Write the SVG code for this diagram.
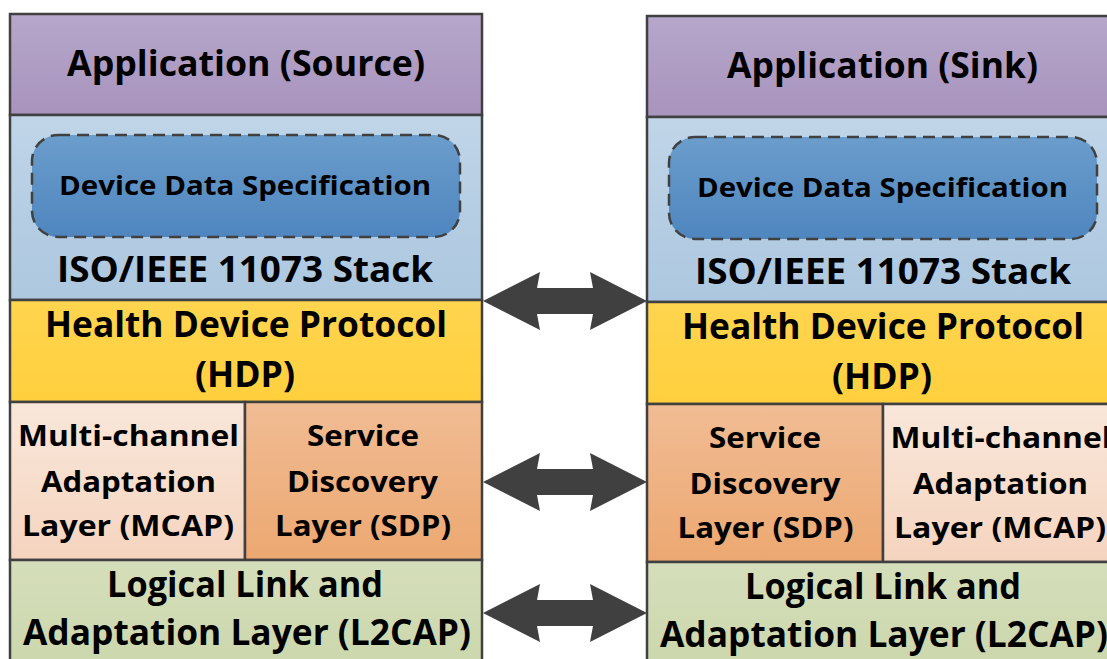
<svg xmlns="http://www.w3.org/2000/svg" width="1107" height="659" viewBox="0 0 1107 659">
<style>
.box{stroke:#404040;stroke-width:2.5}
.t{font-family:"Open Sans","Noto Sans","Liberation Sans",sans-serif;font-weight:bold;fill:#000;text-anchor:middle}
.big{font-size:35px}
.mid{font-size:29px}
.sm{font-size:27px}
.dds{stroke:#404040;stroke-width:2.5;stroke-dasharray:12 7}
.arrow{fill:#404040}
</style>
<defs>
<linearGradient id="gPurple" x1="0" y1="0" x2="0" y2="1"><stop offset="0" stop-color="#b6a7cb"/><stop offset="1" stop-color="#a893bd"/></linearGradient>
<linearGradient id="gLBlue" x1="0" y1="0" x2="0" y2="1"><stop offset="0" stop-color="#c0d5e8"/><stop offset="1" stop-color="#acc7df"/></linearGradient>
<linearGradient id="gBlue" x1="0" y1="0" x2="0" y2="1"><stop offset="0" stop-color="#6b9dcc"/><stop offset="1" stop-color="#4f86bf"/></linearGradient>
<linearGradient id="gYellow" x1="0" y1="0" x2="0" y2="1"><stop offset="0" stop-color="#ffd54f"/><stop offset="1" stop-color="#ffcf3d"/></linearGradient>
<linearGradient id="gPeach" x1="0" y1="0" x2="0" y2="1"><stop offset="0" stop-color="#f9e7da"/><stop offset="1" stop-color="#f5d4bf"/></linearGradient>
<linearGradient id="gOrange" x1="0" y1="0" x2="0" y2="1"><stop offset="0" stop-color="#f1bc94"/><stop offset="1" stop-color="#eca871"/></linearGradient>
<linearGradient id="gGreen" x1="0" y1="0" x2="0" y2="1"><stop offset="0" stop-color="#d5deba"/><stop offset="1" stop-color="#cad6ab"/></linearGradient>
<path id="dblArrow" d="M0,0 L57,-29 L54,-13 L110,-13 L107,-29 L164,0 L107,29 L110,13 L54,13 L57,29 Z"/>
</defs>
<rect width="1107" height="659" fill="#ffffff"/>

<g id="source-stack">
<g id="src-app">
<rect class="box" x="10" y="14" width="472" height="101" fill="url(#gPurple)"/>
<text class="t big" x="246" y="76" textLength="358" lengthAdjust="spacingAndGlyphs">Application (Source)</text>
</g>
<g id="src-iso">
<rect class="box" x="10" y="115" width="472" height="185" fill="url(#gLBlue)"/>
<text class="t big" x="245" y="282" textLength="376" lengthAdjust="spacingAndGlyphs">ISO/IEEE 11073 Stack</text>
</g>
<g id="src-dds">
<rect class="dds" x="32" y="135" width="428" height="102" rx="26" fill="url(#gBlue)"/>
<text class="t sm" x="245" y="195" textLength="372" lengthAdjust="spacingAndGlyphs">Device Data Specification</text>
</g>
<g id="src-hdp">
<rect class="box" x="10" y="300" width="472" height="102" fill="url(#gYellow)"/>
<text class="t big" x="246" y="337" textLength="402" lengthAdjust="spacingAndGlyphs">Health Device Protocol</text>
<text class="t big" x="245" y="387" textLength="100" lengthAdjust="spacingAndGlyphs">(HDP)</text>
</g>
<g id="src-mcap">
<rect class="box" x="10" y="402" width="235" height="158" fill="url(#gPeach)"/>
<text class="t mid" x="128.5" y="446" textLength="221" lengthAdjust="spacingAndGlyphs">Multi-channel</text>
<text class="t mid" x="128.5" y="492" textLength="175" lengthAdjust="spacingAndGlyphs">Adaptation</text>
<text class="t mid" x="128" y="536" textLength="212" lengthAdjust="spacingAndGlyphs">Layer (MCAP)</text>
</g>
<g id="src-sdp">
<rect class="box" x="245" y="402" width="237" height="158" fill="url(#gOrange)"/>
<text class="t mid" x="363" y="446" textLength="112" lengthAdjust="spacingAndGlyphs">Service</text>
<text class="t mid" x="362.5" y="492" textLength="151" lengthAdjust="spacingAndGlyphs">Discovery</text>
<text class="t mid" x="363" y="536" textLength="176" lengthAdjust="spacingAndGlyphs">Layer (SDP)</text>
</g>
<g id="src-l2cap">
<rect class="box" x="10" y="560" width="472" height="120" fill="url(#gGreen)"/>
<text class="t big" x="245" y="597" textLength="276" lengthAdjust="spacingAndGlyphs">Logical Link and</text>
<text class="t big" x="247" y="645" textLength="448" lengthAdjust="spacingAndGlyphs">Adaptation Layer (L2CAP)</text>
</g>
</g>

<g id="sink-stack">
<g id="snk-app">
<rect class="box" x="647" y="16" width="472" height="101" fill="url(#gPurple)"/>
<text class="t big" x="882.5" y="78" textLength="311" lengthAdjust="spacingAndGlyphs">Application (Sink)</text>
</g>
<g id="snk-iso">
<rect class="box" x="647" y="117" width="472" height="185" fill="url(#gLBlue)"/>
<text class="t big" x="883" y="284" textLength="376" lengthAdjust="spacingAndGlyphs">ISO/IEEE 11073 Stack</text>
</g>
<g id="snk-dds">
<rect class="dds" x="669" y="137" width="428" height="102" rx="26" fill="url(#gBlue)"/>
<text class="t sm" x="882.5" y="197" textLength="371" lengthAdjust="spacingAndGlyphs">Device Data Specification</text>
</g>
<g id="snk-hdp">
<rect class="box" x="647" y="302" width="472" height="102" fill="url(#gYellow)"/>
<text class="t big" x="883" y="339" textLength="402" lengthAdjust="spacingAndGlyphs">Health Device Protocol</text>
<text class="t big" x="882" y="389" textLength="100" lengthAdjust="spacingAndGlyphs">(HDP)</text>
</g>
<g id="snk-sdp">
<rect class="box" x="647" y="404" width="236" height="158" fill="url(#gOrange)"/>
<text class="t mid" x="765" y="448" textLength="112" lengthAdjust="spacingAndGlyphs">Service</text>
<text class="t mid" x="765" y="494" textLength="151" lengthAdjust="spacingAndGlyphs">Discovery</text>
<text class="t mid" x="765.5" y="538" textLength="176" lengthAdjust="spacingAndGlyphs">Layer (SDP)</text>
</g>
<g id="snk-mcap">
<rect class="box" x="883" y="404" width="236" height="158" fill="url(#gPeach)"/>
<text class="t mid" x="1001" y="448" textLength="221" lengthAdjust="spacingAndGlyphs">Multi-channel</text>
<text class="t mid" x="1000.5" y="494" textLength="175" lengthAdjust="spacingAndGlyphs">Adaptation</text>
<text class="t mid" x="1000" y="538" textLength="212" lengthAdjust="spacingAndGlyphs">Layer (MCAP)</text>
</g>
<g id="snk-l2cap">
<rect class="box" x="647" y="562" width="472" height="120" fill="url(#gGreen)"/>
<text class="t big" x="883" y="599" textLength="276" lengthAdjust="spacingAndGlyphs">Logical Link and</text>
<text class="t big" x="884" y="647" textLength="448" lengthAdjust="spacingAndGlyphs">Adaptation Layer (L2CAP)</text>
</g>
</g>

<g id="connectors">
<use class="arrow" href="#dblArrow" transform="translate(483,301)"/>
<use class="arrow" href="#dblArrow" transform="translate(483,482)"/>
<use class="arrow" href="#dblArrow" transform="translate(483,613)"/>
</g>
</svg>
